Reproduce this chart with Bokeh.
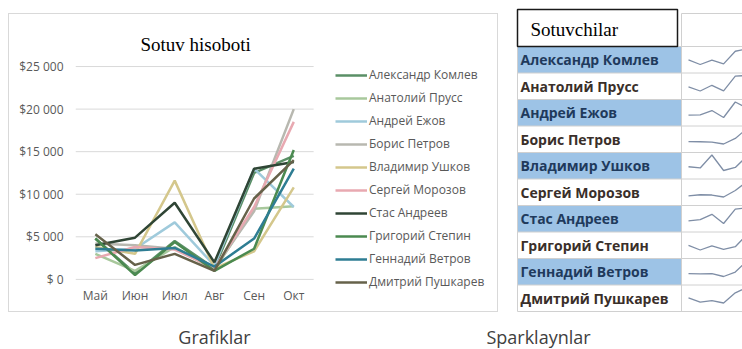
from bokeh.plotting import figure
from bokeh.models import Range1d, FixedTicker, Legend, LegendItem, Spacer
from bokeh.layouts import column, row
from bokeh.embed import file_html
from bokeh.resources import INLINE
from bokeh.core.properties import value

# ---------------- data ----------------
months = ["Май", "Июн", "Июл", "Авг", "Сен", "Окт"]
names = ["Александр Комлев", "Анатолий Прусс", "Андрей Ежов", "Борис Петров",
         "Владимир Ушков", "Сергей Морозов", "Стас Андреев", "Григорий Степин",
         "Геннадий Ветров", "Дмитрий Пушкарев"]
komlev = [4800, 700, 4500, 1300, 12500, 14500]
pruss = [3000, 1000, 3800, 1100, 8300, 8600]
ezhov = [3300, 3600, 6700, 1600, 13000, 8500]
petrov = [4200, 4000, 3600, 1300, 8000, 20000]
ushkov = [3800, 3000, 11600, 1300, 3300, 10800]
morozov = [2500, 3800, 3500, 1300, 8500, 18500]
andreev = [4000, 4900, 9000, 2000, 13000, 13800]
stepin = [4800, 500, 4400, 1000, 3600, 15200]
vetrov = [3600, 3400, 3700, 1500, 4800, 13000]
pushkarev = [5300, 1700, 3000, 1000, 9500, 14000]
series = [komlev, pruss, ezhov, petrov, ushkov, morozov, andreev, stepin, vetrov, pushkarev]

y_ticks = [0, 5000, 10000, 15000, 20000, 25000]
y_tick_labels = ["$ 0", "$5 000", "$10 000", "$15 000", "$20 000", "$25 000"]

chart_title = "Sotuv hisoboti"
table_header = "Sotuvchilar"
captions = ["Grafiklar", "Sparklaynlar"]

# ---------------- styles ----------------
colors = ["#5a8f66", "#a8c89c", "#9fcadb", "#b8b8b0", "#d4c78c",
          "#e8a9b1", "#2f4535", "#4b8a50", "#2e7d93", "#66624a"]
sans = value("Open Sans")
serif = value("Liberation Serif")

# ---------------- line chart ----------------
P_W, P_H = 490, 299
MB_L, MB_R, MB_T, MB_B = 66, 1, 47, 20
n_m = len(months)
x_idx = list(range(n_m))
frame_w = P_W - 2 - MB_L - MB_R
px_per_cat = 39.5
px_per_val = 211 / 25000
x_lo = -0.5
x_hi = x_lo + frame_w / px_per_cat
y_top = 25000 + 5 / px_per_val
y_bot = -14 / px_per_val

p = figure(width=P_W, height=P_H,
           x_range=Range1d(x_lo, x_hi), y_range=Range1d(y_bot, y_top),
           output_backend="svg", toolbar_location=None,
           min_border_left=MB_L, min_border_right=MB_R,
           min_border_top=MB_T, min_border_bottom=MB_B,
           styles={"border": "1px solid #d9d9d9"})
p.outline_line_color = None
p.background_fill_color = "white"
p.border_fill_color = "white"

p.title.text = chart_title
p.title.align = "left"
p.title.offset = 65
p.title.standoff = 14
p.title.text_font = "Liberation Serif"
p.title.text_font_size = "19px"
p.title.text_font_style = "normal"
p.title.text_color = "#000000"

p.yaxis.ticker = FixedTicker(ticks=y_ticks)
p.yaxis.major_label_overrides = {t: l for t, l in zip(y_ticks, y_tick_labels)}
p.yaxis.major_label_standoff = 12
p.xaxis.ticker = FixedTicker(ticks=x_idx)
p.xaxis.major_label_overrides = {i: m for i, m in zip(x_idx, months)}
p.xaxis.major_label_standoff = -7
for ax in (p.xaxis, p.yaxis):
    ax.axis_line_color = None
    ax.major_tick_line_color = None
    ax.minor_tick_line_color = None
    ax.major_tick_out = 0
    ax.major_tick_in = 0
    ax.minor_tick_out = 0
    ax.major_label_text_font = "Open Sans"
    ax.major_label_text_font_size = "12px"
    ax.major_label_text_color = "#595959"
p.grid.visible = False

# horizontal gridlines over the category span only
p.segment(x0=[x_lo] * len(y_ticks), x1=[n_m - 0.5] * len(y_ticks), y0=y_ticks, y1=y_ticks,
          line_color="#d9d9d9", line_width=1)

items = []
for nm, vals, col in zip(names, series, colors):
    r = p.line(x_idx, vals, line_color=col, line_width=2.5)
    items.append(LegendItem(label=nm, renderers=[r]))

legend = Legend(items=items, location=(260, 3))
legend.glyph_width = 32
legend.glyph_height = 16
legend.label_height = 16
legend.spacing = 6
legend.padding = 0
legend.margin = 0
legend.label_standoff = 2
legend.border_line_color = None
legend.background_fill_alpha = 0
legend.label_text_font = "Open Sans"
legend.label_text_font_size = "12px"
legend.label_text_color = "#595959"
p.add_layout(legend)

# ---------------- table with sparklines ----------------
T_W, T_H = 237, 314
t = figure(width=T_W, height=T_H, x_range=Range1d(0, T_W), y_range=Range1d(T_H, 0),
           output_backend="svg", toolbar_location=None, min_border=0,
           x_axis_type=None, y_axis_type=None)
t.outline_line_color = None
t.grid.visible = False

tbl_left, col_split, tbl_right = 12, 176, T_W
head_top, head_bottom = 9, 46
row_h = 26.5
n = len(names)
row_tops = [head_bottom + row_h * i for i in range(n)]

blue_idx = [i for i in range(n) if i % 2 == 0]
t.quad(left=[tbl_left] * len(blue_idx), right=[col_split] * len(blue_idx),
       top=[row_tops[i] for i in blue_idx], bottom=[row_tops[i] + row_h for i in blue_idx],
       fill_color="#9dc3e6", line_color=None)

hy = [head_bottom + row_h * k for k in range(n + 1)]
t.segment(x0=[tbl_left] * len(hy), x1=[tbl_right] * len(hy), y0=hy, y1=hy,
          line_color="#d0d0d0", line_width=1)
t.segment(x0=[col_split, col_split], x1=[tbl_right, col_split], y0=[13, 13], y1=[13, hy[-1]],
          line_color="#d0d0d0", line_width=1)
t.segment(x0=[tbl_left], x1=[tbl_left], y0=[head_bottom], y1=[hy[-1]],
          line_color="#d0d0d0", line_width=1)

t.quad(left=[tbl_left], right=[172], top=[head_top], bottom=[head_bottom],
       fill_color="white", line_color="#1a1a1a", line_width=1.5)
t.text(x=[25], y=[(head_top + head_bottom) / 2 + 1], text=[table_header],
       text_font=serif, text_font_size="19px", text_color="#000000",
       text_baseline="middle", text_align="left")

name_colors = ["#1f3a5c" if i % 2 == 0 else "#3a2f2a" for i in range(n)]
t.text(x=[15] * n, y=[rt + row_h / 2 for rt in row_tops], text=names,
       text_font=sans, text_font_size="14px", text_font_style="bold",
       text_color=name_colors, text_baseline="middle", text_align="left")

sx0, sdx = 183, 11.7
xs, ys = [], []
for i, vals in enumerate(series):
    lo, hi = min(vals), max(vals)
    xs.append([sx0 + j * sdx for j in range(len(vals))])
    ys.append([row_tops[i] + 18 - (v - lo) / (hi - lo) * 15.5 for v in vals])
t.multi_line(xs=xs, ys=ys, line_color="#7f8ea6", line_width=1.3)

# ---------------- captions ----------------
C_W, C_H = 742, 35
c = figure(width=C_W, height=C_H, x_range=Range1d(0, C_W), y_range=Range1d(C_H, 0),
           output_backend="svg", toolbar_location=None, min_border=0,
           x_axis_type=None, y_axis_type=None)
c.outline_line_color = None
c.grid.visible = False
c.text(x=[214, 538], y=[22, 22], text=captions, text_font=sans, text_font_size="18px",
       text_color="#404040", text_align="center", text_baseline="alphabetic")

top_row = row(Spacer(width=8, height=5), column(Spacer(width=P_W, height=13), p),
              Spacer(width=7, height=5), t)
layout = column(top_row, c)
open("out.html", "w").write(file_html(layout, INLINE))
